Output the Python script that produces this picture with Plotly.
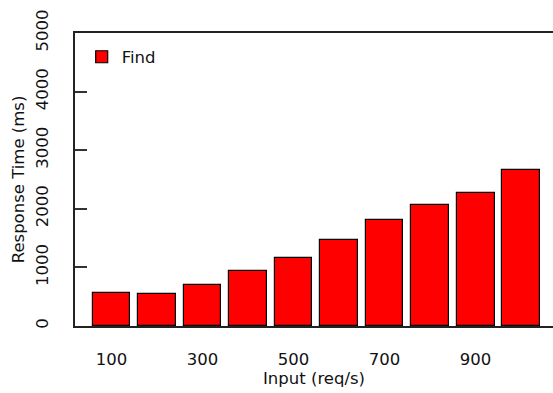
import plotly.graph_objects as go

# Input rate (req/s) and measured response time (ms)
inputs = [100, 200, 300, 400, 500, 600, 700, 800, 900, 1000]
find_ms = [560, 548, 700, 935, 1165, 1468, 1803, 2060, 2275, 2668]
x_ticks = [100, 300, 500, 700, 900]
y_ticks = [0, 1000, 2000, 3000, 4000, 5000]

font = dict(family="DejaVu Sans", size=16.5, color="#111111")

fig = go.Figure(
    data=go.Bar(
        x=inputs,
        y=find_ms,
        width=83,
        name="Find",
        marker=dict(color="#FF0000", line=dict(color="#000000", width=1.2)),
        showlegend=True,
    )
)

fig.update_layout(
    width=553,
    height=393,
    margin=dict(l=75, r=0, t=33, b=67, pad=0),
    paper_bgcolor="#FFFFFF",
    plot_bgcolor="#FFFFFF",
    font=font,
    bargap=0,
    legend=dict(
        x=0.014,
        y=0.918,
        xanchor="left",
        yanchor="middle",
        bgcolor="rgba(0,0,0,0)",
        font=font,
    ),
)

fig.update_xaxes(
    range=[20, 1070],
    tickvals=x_ticks,
    ticks="",
    showgrid=False,
    zeroline=False,
    showline=True,
    linecolor="#222222",
    linewidth=2,
    mirror=True,
    ticklabelstandoff=17,
    title=dict(text="Input (req/s)", standoff=3, font=font),
)

fig.update_yaxes(
    range=[0, 5000],
    tickvals=y_ticks,
    ticks="inside",
    ticklen=12,
    tickwidth=1.5,
    tickcolor="#333333",
    tickangle=-90,
    showgrid=False,
    zeroline=False,
    showline=True,
    linecolor="#222222",
    linewidth=2,
    ticklabelstandoff=18,
    title=dict(text="Response Time (ms)", standoff=5, font=font),
)

# drop the default page margin so the figure fills the window
fig.write_html(
    "out.html",
    config={"displayModeBar": False},
    post_script="document.body.style.margin='0px';",
)
